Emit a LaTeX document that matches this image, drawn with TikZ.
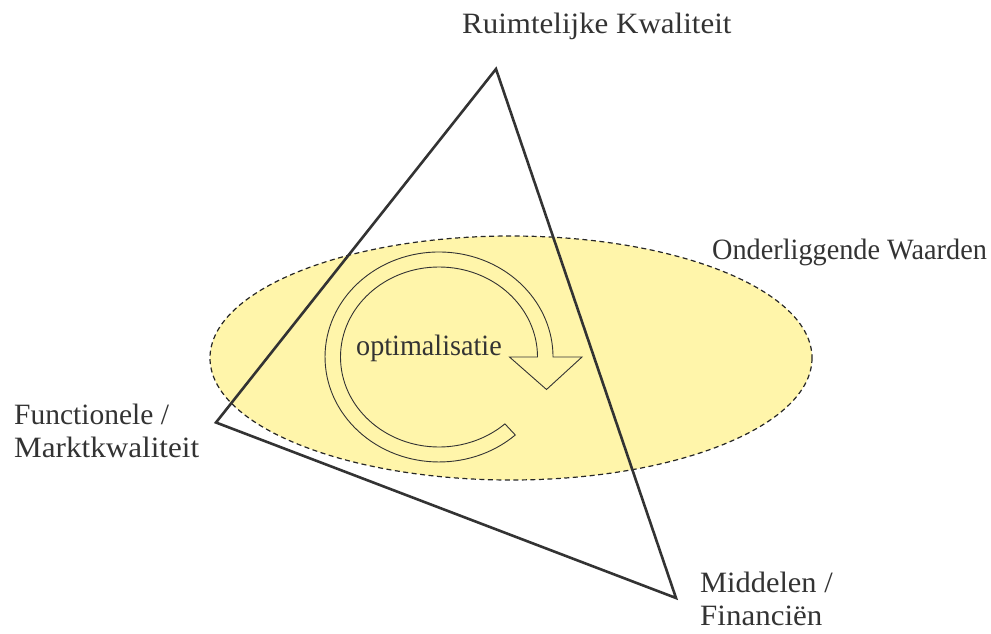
\documentclass[tikz,border=0pt]{standalone}
\usepackage{fontspec}
\setmainfont{Liberation Serif}
\definecolor{txt}{HTML}{333333}
\definecolor{ell}{HTML}{FFF5AA}
\definecolor{tri}{HTML}{333333}
\newcommand{\hsc}[2]{\scalebox{#1}[1]{#2}}
\begin{document}
\begin{tikzpicture}[x=1pt,y=-1pt,
  lbl/.style={inner sep=0pt,text=txt,font=\fontsize{29.5}{33}\selectfont},
  triline/.style={draw=tri,line width=2.6pt,line join=miter},
  ellbox/.style={draw=black!85,fill=ell,line width=1.2pt,dash pattern=on 5pt off 3.5pt},
  arrowline/.style={draw=black!80,line width=0.9pt,fill=ell}]
\useasboundingbox (0,0) rectangle (991,634);
% ellipse
\path[ellbox] (511,358) ellipse [x radius=301, y radius=122];
% circular arrow
\coordinate (cc) at (439,357);
\draw[arrowline] (515.3,435.0) arc[start angle=48,end angle=360,x radius=114,y radius=105]
  -- (582,357) -- (546.5,389.5) -- (509.5,357) -- (537.5,357)
  arc[start angle=360,end angle=48,x radius=98.5,y radius=90] -- cycle;
% triangle
\coordinate (top) at (496,69);
\coordinate (left) at (216,422.5);
\coordinate (br) at (676,598);
\draw[triline] (top) -- (left) -- (br) -- cycle;
% labels
\node[lbl,anchor=base west] (rk) at (462,34) {\hsc{1.05}{Ruimtelijke Kwaliteit}};
\node[lbl,anchor=base west] (ow) at (712,259) {\hsc{0.958}{Onderliggende Waarden}};
\node[lbl,anchor=base west] (opt) at (356,355) {\hsc{0.955}{optimalisatie}};
\node[lbl,anchor=base west] (fm1) at (14,424) {\hsc{1.0}{Functionele /}};
\node[lbl,anchor=base west] (fm2) at (14,457) {\hsc{1.055}{Marktkwaliteit}};
\node[lbl,anchor=base west] (mf1) at (700,592) {\hsc{1.03}{Middelen /}};
\node[lbl,anchor=base west] (mf2) at (700,625) {\hsc{1.05}{Financiën}};
\end{tikzpicture}
\end{document}
